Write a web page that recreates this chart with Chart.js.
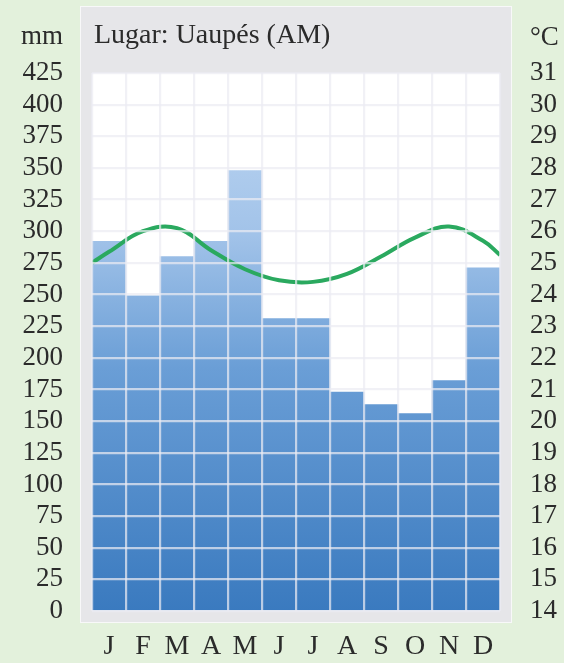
<!DOCTYPE html>
<html>
<head>
<meta charset="utf-8">
<script src="https://cdn.jsdelivr.net/npm/chart.js@4/dist/chart.umd.min.js"></script>
<style>
  html, body { margin: 0; padding: 0; background: #e3f1dc; }
  #wrap { width: 564px; height: 663px; position: relative; }
</style>
</head>
<body>
<div id="wrap"><canvas id="c" width="564" height="663"></canvas></div>
<script>
// ---- Data ----
const months = ['J', 'F', 'M', 'A', 'M', 'J', 'J', 'A', 'S', 'O', 'N', 'D'];
const rainfallMm = [292, 249, 280, 292, 348, 231, 231, 173, 163, 156, 182, 271];
const temperatureC = [25.35, 26.0, 26.1, 25.4, 24.8, 24.45, 24.4, 24.65, 25.2, 25.8, 26.15, 25.7];
const tempAtYearStart = 25.0;   // curve value at left edge (start of January)
const tempAtYearEnd = 25.25;    // curve value at right edge (end of December)
const mmTicks = [0, 25, 50, 75, 100, 125, 150, 175, 200, 225, 250, 275, 300, 325, 350, 375, 400, 425];
const cTicks = [14, 15, 16, 17, 18, 19, 20, 21, 22, 23, 24, 25, 26, 27, 28, 29, 30, 31];
const titleText = 'Lugar: Uaupés (AM)';
const leftUnit = 'mm';
const rightUnit = '°C';

// line points: month index positions (-0.5 and 11.5 are the year's edges)
const tempPoints = [{ x: -0.5, y: tempAtYearStart }]
  .concat(temperatureC.map((t, i) => ({ x: i, y: t })))
  .concat([{ x: 11.5, y: tempAtYearEnd }]);

const FONT = '"Liberation Serif", "Times New Roman", serif';
const textColor = '#2b2b2b';

const backgroundPlugin = {
  id: 'bg',
  beforeDraw(chart) {
    const { ctx, chartArea: a } = chart;
    ctx.save();
    ctx.fillStyle = '#e3f1dc';
    ctx.fillRect(0, 0, chart.width, chart.height);
    // gray panel
    const px = a.left - 12, py = a.top - 67, pw = (a.right + 12) - px, ph = (a.bottom + 12) - py;
    ctx.fillStyle = '#e6e6e9';
    ctx.fillRect(px, py, pw, ph);
    ctx.strokeStyle = 'rgba(255,255,255,0.7)';
    ctx.lineWidth = 1;
    ctx.strokeRect(px + 0.5, py + 0.5, pw - 1, ph - 1);
    // white plot area
    ctx.fillStyle = '#ffffff';
    ctx.fillRect(a.left, a.top, a.right - a.left, a.bottom - a.top);
    ctx.restore();
  },
  afterDraw(chart) {
    const { ctx, chartArea: a } = chart;
    ctx.save();
    ctx.fillStyle = textColor;
    ctx.font = '28px ' + FONT;
    ctx.textBaseline = 'alphabetic';
    ctx.textAlign = 'left';
    ctx.fillText(titleText, a.left + 2, 43);
    ctx.font = '27px ' + FONT;
    ctx.textAlign = 'right';
    ctx.fillText(leftUnit, a.left - 29, 44);
    ctx.textAlign = 'left';
    ctx.fillText(rightUnit, a.right + 30, 45);
    ctx.restore();
  }
};

function barGradient(context) {
  const chart = context.chart;
  const a = chart.chartArea;
  if (!a) return '#6a9fd8';
  const g = chart.ctx.createLinearGradient(0, a.bottom, 0, a.top);
  g.addColorStop(0, '#3a7abf');
  g.addColorStop(0.45, '#6a9ed6');
  g.addColorStop(0.7, '#a2c3e9');
  g.addColorStop(1, '#c0d8f3');
  return g;
}

const gridStyle = { color: 'rgba(236,236,242,0.72)', lineWidth: 2.2, z: 1, drawTicks: false };

new Chart(document.getElementById('c'), {
  data: {
    labels: months,
    datasets: [
      {
        type: 'line',
        label: 'Temperatura',
        data: tempPoints,
        xAxisID: 'x2',
        yAxisID: 'y2',
        borderColor: '#2aa95f',
        borderWidth: 4,
        pointRadius: 0,
        tension: 0.4,
        fill: false,
        order: 0
      },
      {
        type: 'bar',
        label: 'Precipitação',
        data: rainfallMm,
        xAxisID: 'x',
        yAxisID: 'y',
        backgroundColor: barGradient,
        borderWidth: 0,
        grouped: false,
        barPercentage: 1,
        categoryPercentage: 1,
        order: 1
      }
    ]
  },
  options: {
    responsive: false,
    animation: false,
    devicePixelRatio: 1,
    layout: { padding: { top: 73, left: 0, right: 0, bottom: 0 } },
    plugins: { legend: { display: false }, tooltip: { enabled: false }, title: { display: false } },
    scales: {
      x: {
        type: 'category',
        position: 'bottom',
        offset: true,
        grid: Object.assign({ offset: true }, gridStyle),
        border: { display: false },
        ticks: { color: textColor, font: { family: FONT, size: 28 }, padding: 19, autoSkip: false, maxRotation: 0 },
        afterFit(s) { s.height = 52; }
      },
      x2: {
        type: 'linear',
        display: false,
        min: -0.5,
        max: 11.5
      },
      y: {
        type: 'linear',
        position: 'left',
        min: 0,
        max: 425,
        afterBuildTicks(s) { s.ticks = mmTicks.map(v => ({ value: v })); },
        grid: gridStyle,
        border: { display: false },
        ticks: { color: textColor, font: { family: FONT, size: 27 }, padding: 29, autoSkip: false },
        afterFit(s) { s.width = 92; }
      },
      y2: {
        type: 'linear',
        position: 'right',
        min: 14,
        max: 31,
        afterBuildTicks(s) { s.ticks = cTicks.map(v => ({ value: v })); },
        grid: { display: false, drawTicks: false },
        border: { display: false },
        ticks: { color: textColor, font: { family: FONT, size: 27 }, padding: 30, autoSkip: false },
        afterFit(s) { s.width = 64; }
      }
    }
  },
  plugins: [backgroundPlugin]
});
</script>
</body>
</html>
